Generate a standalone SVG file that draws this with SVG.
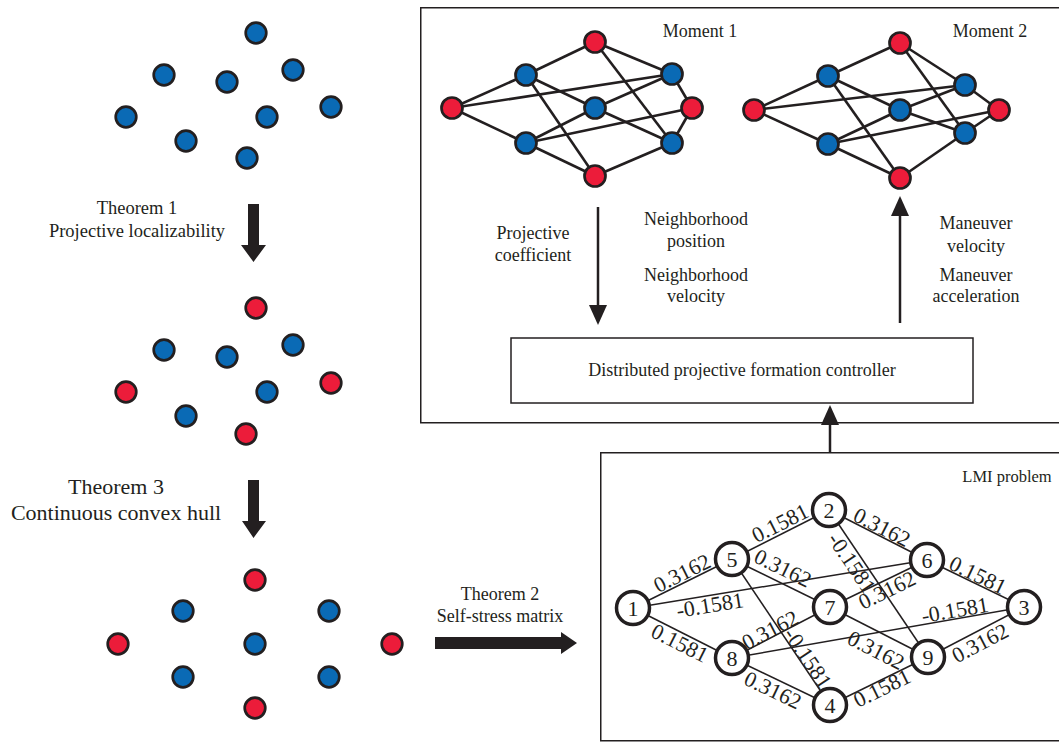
<svg xmlns="http://www.w3.org/2000/svg" width="1059" height="742" viewBox="0 0 1059 742">
<style>
text{font-family:"Liberation Serif","Times New Roman",serif;fill:#231f20}
.t18{font-size:18px;text-anchor:middle}
.t22{font-size:22px;text-anchor:middle}
.lb{font-size:22px;text-anchor:middle}
.b{fill:#0a6ab5;stroke:#231f20;stroke-width:2.7}
.r{fill:#ec1c3a;stroke:#231f20;stroke-width:2.7}
.e line{stroke:#231f20;stroke-width:2.6}
.box{fill:none;stroke:#231f20;stroke-width:1.5}
.n circle{fill:#fff;stroke:#231f20;stroke-width:3.5}
.ge line{stroke:#231f20;stroke-width:1.5}
.ar{fill:#231f20}
.al{stroke:#231f20;stroke-width:2.5}
</style>
<rect width="1059" height="742" fill="#fff"/>

<g id="dots1">
<circle class="b" cx="256" cy="33" r="10.3"/>
<circle class="b" cx="164" cy="75" r="10.3"/>
<circle class="b" cx="227" cy="82" r="10.3"/>
<circle class="b" cx="293" cy="70" r="10.3"/>
<circle class="b" cx="126" cy="117" r="10.3"/>
<circle class="b" cx="267" cy="117" r="10.3"/>
<circle class="b" cx="331" cy="107" r="10.3"/>
<circle class="b" cx="186" cy="141" r="10.3"/>
<circle class="b" cx="247" cy="158" r="10.3"/>
</g>
<g id="dots2">
<circle class="r" cx="256" cy="308" r="10.3"/>
<circle class="b" cx="164" cy="350" r="10.3"/>
<circle class="b" cx="227" cy="357" r="10.3"/>
<circle class="b" cx="293" cy="345" r="10.3"/>
<circle class="r" cx="126" cy="392" r="10.3"/>
<circle class="b" cx="267" cy="392" r="10.3"/>
<circle class="r" cx="331" cy="383" r="10.3"/>
<circle class="b" cx="186" cy="416" r="10.3"/>
<circle class="r" cx="246" cy="434" r="10.3"/>
</g>
<g id="dots3">
<circle class="r" cx="255" cy="580" r="10.3"/>
<circle class="b" cx="183" cy="611" r="10.3"/>
<circle class="b" cx="329" cy="611" r="10.3"/>
<circle class="r" cx="118" cy="644" r="10.3"/>
<circle class="b" cx="255" cy="644" r="10.3"/>
<circle class="r" cx="392" cy="644" r="10.3"/>
<circle class="b" cx="183" cy="677" r="10.3"/>
<circle class="b" cx="329" cy="677" r="10.3"/>
<circle class="r" cx="255" cy="708" r="10.3"/>
</g>

<g id="theorem1">
<text class="t18" x="137" y="214" style="font-size:18.5px">Theorem 1</text>
<text class="t18" x="137" y="237" style="font-size:18.5px">Projective localizability</text>
<polygon class="ar" points="248,204 259,204 259,245 266,245 253.5,262 241,245 248,245"/>
</g>
<g id="theorem3">
<text class="t22" x="116" y="494">Theorem 3</text>
<text class="t22" x="116" y="520">Continuous convex hull</text>
<polygon class="ar" points="248,480 259,480 259,521 266,521 253.5,538 242,521 248,521"/>
</g>
<g id="theorem2">
<text class="t18" x="500" y="600">Theorem 2</text>
<text class="t18" x="500" y="622">Self-stress matrix</text>
<polygon class="ar" points="435,637 561,637 561,632 577,643 561,654 561,649 435,649"/>
</g>

<g id="topbox">
<rect class="box" x="420.75" y="7.75" width="660" height="415"/>
<text class="t18" x="700" y="37">Moment 1</text>
<text class="t18" x="990" y="37">Moment 2</text>
</g>

<g id="moment1">
<g class="e">
<line x1="452" y1="108" x2="526" y2="75"/>
<line x1="452" y1="108" x2="526" y2="143"/>
<line x1="452" y1="108" x2="672" y2="74"/>
<line x1="526" y1="75" x2="595" y2="42"/>
<line x1="526" y1="75" x2="595" y2="108"/>
<line x1="526" y1="75" x2="595" y2="176"/>
<line x1="526" y1="143" x2="595" y2="108"/>
<line x1="526" y1="143" x2="692" y2="108"/>
<line x1="526" y1="143" x2="595" y2="176"/>
<line x1="595" y1="42" x2="672" y2="74"/>
<line x1="595" y1="42" x2="672" y2="143"/>
<line x1="595" y1="108" x2="672" y2="74"/>
<line x1="595" y1="108" x2="672" y2="143"/>
<line x1="672" y1="74" x2="692" y2="108"/>
<line x1="692" y1="108" x2="672" y2="143"/>
<line x1="595" y1="176" x2="672" y2="143"/>
</g>
<circle class="r" cx="452" cy="108" r="10.5"/>
<circle class="b" cx="526" cy="75" r="10.5"/>
<circle class="b" cx="526" cy="143" r="10.5"/>
<circle class="r" cx="595" cy="42" r="10.5"/>
<circle class="b" cx="595" cy="108" r="10.5"/>
<circle class="r" cx="595" cy="176" r="10.5"/>
<circle class="b" cx="672" cy="74" r="10.5"/>
<circle class="r" cx="692" cy="108" r="10.5"/>
<circle class="b" cx="672" cy="143" r="10.5"/>
</g>

<g id="moment2">
<g class="e">
<line x1="754" y1="110" x2="828" y2="76"/>
<line x1="754" y1="110" x2="828" y2="144"/>
<line x1="754" y1="110" x2="965" y2="85"/>
<line x1="828" y1="76" x2="900" y2="43"/>
<line x1="828" y1="76" x2="900" y2="110"/>
<line x1="828" y1="76" x2="900" y2="178"/>
<line x1="828" y1="144" x2="900" y2="110"/>
<line x1="828" y1="144" x2="999" y2="110"/>
<line x1="828" y1="144" x2="900" y2="178"/>
<line x1="900" y1="43" x2="965" y2="85"/>
<line x1="900" y1="43" x2="965" y2="133"/>
<line x1="900" y1="110" x2="965" y2="85"/>
<line x1="900" y1="110" x2="965" y2="133"/>
<line x1="965" y1="85" x2="999" y2="110"/>
<line x1="999" y1="110" x2="965" y2="133"/>
<line x1="900" y1="178" x2="965" y2="133"/>
</g>
<circle class="r" cx="754" cy="110" r="10.5"/>
<circle class="b" cx="828" cy="76" r="10.5"/>
<circle class="b" cx="828" cy="144" r="10.5"/>
<circle class="r" cx="900" cy="43" r="10.5"/>
<circle class="b" cx="900" cy="110" r="10.5"/>
<circle class="r" cx="900" cy="178" r="10.5"/>
<circle class="b" cx="965" cy="85" r="10.5"/>
<circle class="r" cx="999" cy="110" r="10.5"/>
<circle class="b" cx="965" cy="133" r="10.5"/>
</g>

<g id="flowlabels">
<text class="t18" x="533" y="239">Projective</text>
<text class="t18" x="533" y="261">coefficient</text>
<text class="t18" x="696" y="225">Neighborhood</text>
<text class="t18" x="696" y="247">position</text>
<text class="t18" x="696" y="281">Neighborhood</text>
<text class="t18" x="696" y="302">velocity</text>
<text class="t18" x="976" y="229">Maneuver</text>
<text class="t18" x="976" y="252">velocity</text>
<text class="t18" x="976" y="281">Maneuver</text>
<text class="t18" x="976" y="302">acceleration</text>
</g>

<g id="controller">
<rect class="box" x="511" y="338" width="462" height="65" stroke-width="1.2"/>
<text class="t18" x="742" y="376">Distributed projective formation controller</text>
</g>

<g id="flowarrows">
<line class="al" x1="598" y1="207" x2="598" y2="306"/>
<polygon class="ar" points="589,305 607,305 598,325"/>
<line class="al" x1="900" y1="323" x2="900" y2="215"/>
<polygon class="ar" points="891,216 909,216 900,196"/>
<line class="al" x1="830" y1="452" x2="830" y2="424"/>
<polygon class="ar" points="821,425 839,425 830,405"/>
</g>

<g id="lmibox">
<rect class="box" x="600.75" y="452.75" width="470" height="288"/>
<text class="t18" x="1007" y="482" style="font-size:16.5px">LMI problem</text>
</g>

<g id="lmi-edges" class="ge">
<line x1="633" y1="608" x2="732" y2="559"/>
<line x1="633" y1="608" x2="732" y2="658"/>
<line x1="633" y1="608" x2="927" y2="560"/>
<line x1="732" y1="559" x2="829" y2="510"/>
<line x1="732" y1="559" x2="830" y2="607"/>
<line x1="732" y1="559" x2="830" y2="705"/>
<line x1="829" y1="510" x2="927" y2="560"/>
<line x1="829" y1="510" x2="928" y2="657"/>
<line x1="927" y1="560" x2="1024" y2="607"/>
<line x1="927" y1="560" x2="830" y2="607"/>
<line x1="732" y1="658" x2="830" y2="607"/>
<line x1="732" y1="658" x2="1024" y2="607"/>
<line x1="732" y1="658" x2="830" y2="705"/>
<line x1="830" y1="607" x2="928" y2="657"/>
<line x1="928" y1="657" x2="1024" y2="607"/>
<line x1="830" y1="705" x2="928" y2="657"/>
</g>

<g id="lmi-labels">
<text class="lb" transform="translate(682,573) rotate(-26.3)" y="7.5">0.3162</text>
<text class="lb" transform="translate(780,523) rotate(-26.8)" y="7.5">0.1581</text>
<text class="lb" transform="translate(783,568) rotate(26.1)" y="7.5">0.3162</text>
<text class="lb" transform="translate(882,527) rotate(27)" y="7.5">0.3162</text>
<text class="lb" transform="translate(978,575) rotate(25.8)" y="7.5">0.1581</text>
<text class="lb" transform="translate(680,643) rotate(26.8)" y="7.5">0.1581</text>
<text class="lb" transform="translate(773,690) rotate(25.6)" y="7.5">0.3162</text>
<text class="lb" transform="translate(882,688) rotate(-26)" y="7.5">0.1581</text>
<text class="lb" transform="translate(980,643) rotate(-27.5)" y="7.5">0.3162</text>
<text class="lb" transform="translate(876,650) rotate(27)" y="7.5">0.3162</text>
<text class="lb" transform="translate(770,630) rotate(-27.5)" y="7.5">0.3162</text>
<text class="lb" transform="translate(887,590) rotate(-25.8)" y="7.5">0.3162</text>
<text class="lb" transform="translate(710,605) rotate(-9.3)" y="7.5">-0.1581</text>
<text class="lb" transform="translate(955,610) rotate(-9.9)" y="7.5">-0.1581</text>
<text class="lb" transform="translate(852,563) rotate(56)" y="7.5">-0.1581</text>
<text class="lb" transform="translate(808,658) rotate(56)" y="7.5">-0.1581</text>
</g>

<g id="n1" class="n"><circle cx="633" cy="608" r="16.5"/><text class="t22" x="633" y="616">1</text></g>
<g id="n2" class="n"><circle cx="829" cy="510" r="16.5"/><text class="t22" x="829" y="518">2</text></g>
<g id="n3" class="n"><circle cx="1024" cy="607" r="16.5"/><text class="t22" x="1024" y="615">3</text></g>
<g id="n4" class="n"><circle cx="830" cy="705" r="16.5"/><text class="t22" x="830" y="713">4</text></g>
<g id="n5" class="n"><circle cx="732" cy="559" r="16.5"/><text class="t22" x="732" y="567">5</text></g>
<g id="n6" class="n"><circle cx="927" cy="560" r="16.5"/><text class="t22" x="927" y="568">6</text></g>
<g id="n7" class="n"><circle cx="830" cy="607" r="16.5"/><text class="t22" x="830" y="615">7</text></g>
<g id="n8" class="n"><circle cx="732" cy="658" r="16.5"/><text class="t22" x="732" y="666">8</text></g>
<g id="n9" class="n"><circle cx="928" cy="657" r="16.5"/><text class="t22" x="928" y="665">9</text></g>
</svg>
